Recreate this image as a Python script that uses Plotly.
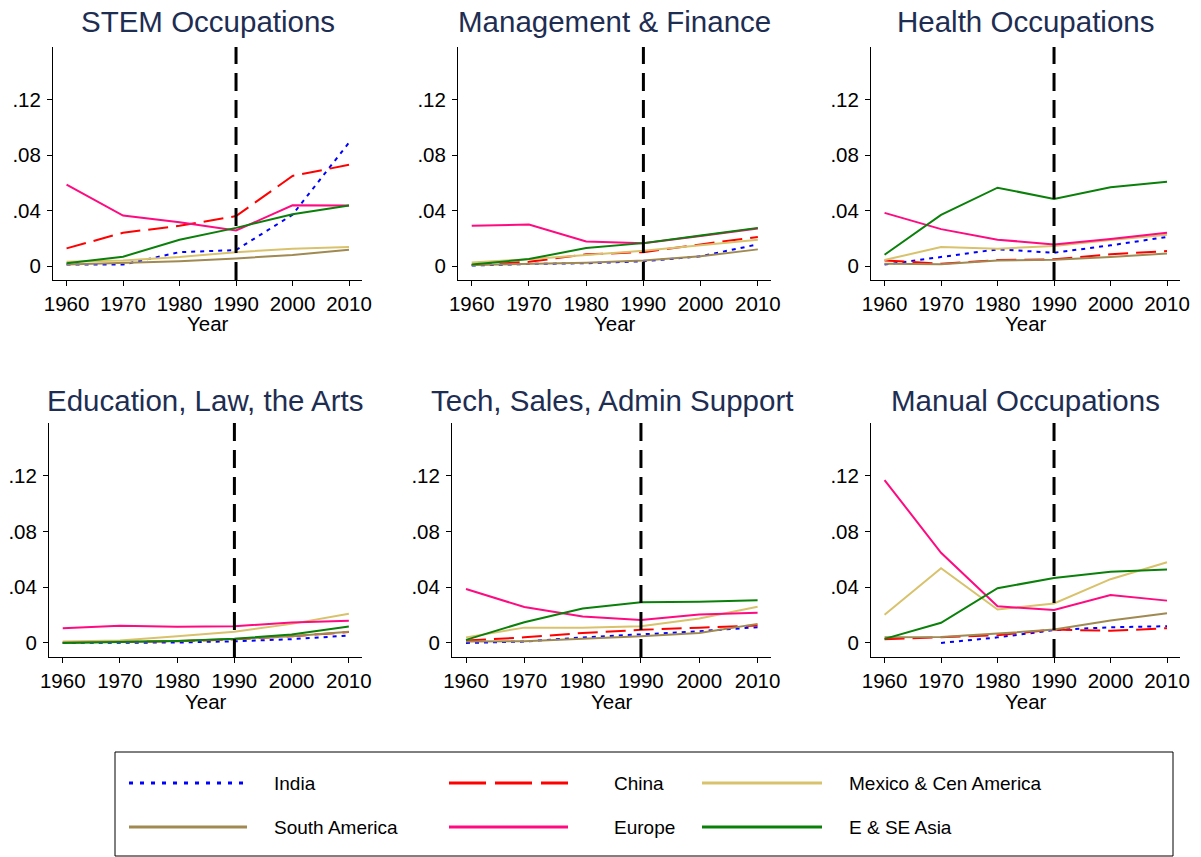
import plotly.graph_objects as go

W, H = 1201, 857

years = [1960, 1970, 1980, 1990, 2000, 2010]
series = ["India", "China", "Mexico & Cen America", "South America", "Europe", "E & SE Asia"]
panel_titles = ["STEM Occupations", "Management & Finance", "Health Occupations",
                "Education, Law, the Arts", "Tech, Sales, Admin Support", "Manual Occupations"]
x_axis_title = "Year"
y_tickvals = [0, 0.04, 0.08, 0.12]
y_ticktext = ["0", ".04", ".08", ".12"]
x_tickvals = years
break_year = 1990

# values per panel (share), order of series as above
stem = {
    "India":                [0.001, 0.001, 0.010, 0.0115, 0.037, 0.089],
    "China":                [0.0127, 0.024, 0.029, 0.036, 0.065, 0.073],
    "Mexico & Cen America": [0.003, 0.004, 0.0065, 0.010, 0.0125, 0.0137],
    "South America":        [0.001, 0.002, 0.0035, 0.0055, 0.008, 0.0117],
    "Europe":               [0.0587, 0.0364, 0.0316, 0.0256, 0.0438, 0.0436],
    "E & SE Asia":          [0.002, 0.0067, 0.019, 0.0275, 0.0374, 0.0436],
}
management = {
    "India":                [0.0003, 0.0015, 0.002, 0.0034, 0.007, 0.0156],
    "China":                [0.0007, 0.003, 0.0084, 0.010, 0.0156, 0.021],
    "Mexico & Cen America": [0.0026, 0.0048, 0.008, 0.011, 0.015, 0.019],
    "South America":        [0.0007, 0.0017, 0.0024, 0.004, 0.007, 0.012],
    "Europe":               [0.029, 0.030, 0.0177, 0.0165, 0.0216, 0.027],
    "E & SE Asia":          [0.001, 0.005, 0.013, 0.0165, 0.022, 0.0275],
}
health = {
    "India":                [0.001, 0.0067, 0.012, 0.0096, 0.0149, 0.021],
    "China":                [0.004, 0.0017, 0.0043, 0.0048, 0.0084, 0.0108],
    "Mexico & Cen America": [0.0043, 0.0137, 0.0125, 0.0144, 0.0187, 0.0225],
    "South America":        [0.0017, 0.0012, 0.004, 0.0045, 0.0065, 0.009],
    "Europe":               [0.0383, 0.0266, 0.019, 0.0156, 0.0194, 0.024],
    "E & SE Asia":          [0.0081, 0.0369, 0.0565, 0.0484, 0.0568, 0.0608],
}
education = {
    "India":                [0.0, 0.0, 0.0003, 0.0012, 0.0027, 0.0053],
    "China":                [0.0004, 0.0007, 0.0012, 0.0026, 0.0048, 0.0078],
    "Mexico & Cen America": [0.001, 0.0017, 0.0048, 0.008, 0.0137, 0.021],
    "South America":        [0.0003, 0.0007, 0.0014, 0.0029, 0.0048, 0.008],
    "Europe":               [0.0106, 0.0123, 0.0116, 0.012, 0.0147, 0.0159],
    "E & SE Asia":          [0.0, 0.0005, 0.0014, 0.003, 0.006, 0.0118],
}
tech_sales = {
    "India":                [0.0, 0.001, 0.0039, 0.006, 0.0084, 0.0113],
    "China":                [0.0017, 0.004, 0.0072, 0.0094, 0.011, 0.0125],
    "Mexico & Cen America": [0.004, 0.011, 0.011, 0.012, 0.0176, 0.026],
    "South America":        [0.001, 0.0012, 0.003, 0.0048, 0.0072, 0.0137],
    "Europe":               [0.0388, 0.0258, 0.019, 0.0164, 0.0205, 0.0217],
    "E & SE Asia":          [0.0022, 0.0149, 0.0248, 0.0292, 0.0296, 0.0306],
}
manual = {
    "India":                [None, 0.0, 0.004, 0.0092, 0.0113, 0.012],
    "China":                [0.0026, 0.0039, 0.0055, 0.0096, 0.0087, 0.0106],
    "Mexico & Cen America": [0.0202, 0.0537, 0.024, 0.0284, 0.0458, 0.058],
    "South America":        [0.004, 0.0043, 0.0067, 0.0096, 0.0161, 0.0214],
    "Europe":               [0.117, 0.0648, 0.0263, 0.0236, 0.0345, 0.0304],
    "E & SE Asia":          [0.0029, 0.0145, 0.0393, 0.0467, 0.0511, 0.0528],
}
panels = [stem, management, health, education, tech_sales, manual]

# styles
colors = {
    "India": "#0000FF",
    "China": "#FF0000",
    "Mexico & Cen America": "#D9C26C",
    "South America": "#A08A52",
    "Europe": "#FF0A80",
    "E & SE Asia": "#0A800A",
}
dashes = {
    "India": "4px,5px",
    "China": "20px,8px",
    "Mexico & Cen America": "solid",
    "South America": "solid",
    "Europe": "solid",
    "E & SE Asia": "solid",
}
legend_dashes = {
    "India": "4px,7px",
    "China": "37px,9px",
}

FONT = "Liberation Sans, Arial, sans-serif"
TITLE_COLOR = "#1E2D52"
TICK_SIZE = 20.5

def px_x(p):
    return p / W

def px_y(p):
    return 1 - p / H

# panel layout in pixels (left, right) and rows (top, bottom)
x_doms_px = [(53, 362), (458, 771), (871, 1180), (49, 362), (452, 771), (871, 1180)]
row_px = [(47, 280), (423, 657)]
title_y_px = [22, 400]
xtitle_y_px = [323, 701]
x_range = [1957.6, 2012.3]
y_range = [-0.0101, 0.158]

fig = go.Figure()
layout = dict(
    width=W, height=H, autosize=False,
    margin=dict(l=0, r=0, t=0, b=0, autoexpand=False),
    paper_bgcolor="white", plot_bgcolor="white",
    showlegend=False,
    font=dict(family=FONT, size=TICK_SIZE, color="black"),
)
annotations = []
shapes = []

for i, data in enumerate(panels):
    k = i + 1
    xa = "x" if k == 1 else f"x{k}"
    ya = "y" if k == 1 else f"y{k}"
    row = 0 if i < 3 else 1
    for name in series:
        fig.add_trace(go.Scatter(
            x=years, y=data[name], mode="lines", name=name,
            line=dict(color=colors[name], width=2, dash=dashes[name]),
            xaxis=xa, yaxis=ya, showlegend=False,
            connectgaps=False,
        ))
    l, r = x_doms_px[i]
    t, b = row_px[row]
    layout["xaxis" if k == 1 else f"xaxis{k}"] = dict(
        domain=[px_x(l), px_x(r)], anchor=ya, range=x_range, automargin=False,
        tickvals=x_tickvals, ticks="outside", ticklen=5, tickcolor="black",
        showline=True, linecolor="black", linewidth=1, showgrid=False, zeroline=False,
        tickfont=dict(size=TICK_SIZE, family=FONT, color="black"),
    )
    layout["yaxis" if k == 1 else f"yaxis{k}"] = dict(
        domain=[px_y(b), px_y(t)], anchor=xa, range=y_range, automargin=False,
        tickvals=y_tickvals, ticktext=y_ticktext, ticks="outside", ticklen=5, tickcolor="black",
        showline=True, linecolor="black", linewidth=1, showgrid=False, zeroline=False,
        tickfont=dict(size=TICK_SIZE, family=FONT, color="black"),
        ticklabelstandoff=2,
    )
    shapes.append(dict(
        type="line", xref=xa, yref=f"{ya} domain", x0=break_year, x1=break_year, y0=0, y1=1,
        line=dict(color="black", width=3, dash="18px,9px"), layer="above",
    ))
    cx = (px_x(l) + px_x(r)) / 2
    annotations.append(dict(
        text=panel_titles[i], xref="paper", yref="paper",
        x=cx, y=px_y(title_y_px[row]),
        xanchor="center", yanchor="middle", showarrow=False,
        font=dict(size=29.5, family=FONT, color=TITLE_COLOR),
    ))
    annotations.append(dict(
        text=x_axis_title, xref="paper", yref="paper",
        x=cx, y=px_y(xtitle_y_px[row]),
        xanchor="center", yanchor="middle", showarrow=False,
        font=dict(size=TICK_SIZE, family=FONT, color="black"),
    ))

# legend box (drawn as layout decoration)
shapes.append(dict(type="rect", xref="paper", yref="paper",
                   x0=px_x(115), x1=px_x(1173), y0=px_y(856), y1=px_y(752),
                   line=dict(color="black", width=1), fillcolor="rgba(0,0,0,0)"))
legend_rows = [783, 827]
legend_cols = [(129, 247, 272), (449, 568, 612), (702, 822, 847)]
for j, name in enumerate(series):
    r_i, c_i = divmod(j, 3)
    x0, x1, xt = legend_cols[c_i]
    yy = px_y(legend_rows[r_i])
    shapes.append(dict(type="line", xref="paper", yref="paper", x0=px_x(x0), x1=px_x(x1), y0=yy, y1=yy,
                       line=dict(color=colors[name], width=3, dash=legend_dashes.get(name, "solid"))))
    annotations.append(dict(text=name, xref="paper", yref="paper", x=px_x(xt), y=yy,
                            xanchor="left", yanchor="middle", showarrow=False,
                            font=dict(size=19, family=FONT, color="black")))

layout["shapes"] = shapes
layout["annotations"] = annotations
fig.update_layout(**layout)
fig.write_html("out.html",
               config={"displayModeBar": False, "responsive": False},
               post_script="document.body.style.margin='0';document.body.style.overflow='hidden';")
